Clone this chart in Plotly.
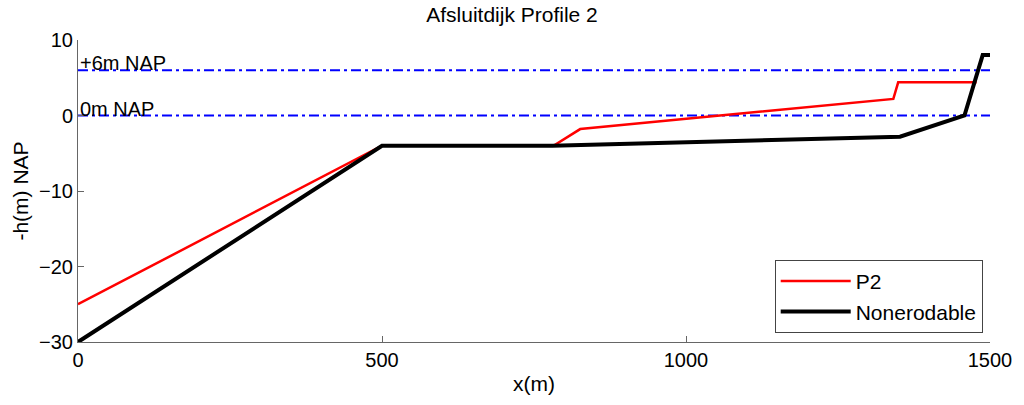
import plotly.graph_objects as go

# Data
p2_x = [0, 500, 782, 826, 1341, 1349, 1473, 1478]
p2_y = [-25, -4, -4, -1.8, 2.2, 4.4, 4.4, 4.4]
ne_x = [0, 500, 780, 1352, 1458, 1488, 1500]
ne_y = [-30, -4, -4, -2.8, 0, 8, 8]
ref_levels = [6, 0]
ref_labels = ["+6m NAP", "0m NAP"]
x_range = [0, 1500]
y_range = [-30, 10]
x_ticks = [0, 500, 1000, 1500]
y_ticks = [-30, -20, -10, 0, 10]

FONT = "Liberation Sans, Arial, sans-serif"

fig = go.Figure()
for lvl in ref_levels:
    fig.add_trace(go.Scatter(x=x_range, y=[lvl, lvl], mode="lines",
                             line=dict(color="#0000ff", width=2, dash="10px,4px,3px,4px"),
                             showlegend=False, hoverinfo="skip"))
fig.add_trace(go.Scatter(x=p2_x, y=p2_y, mode="lines", name="P2",
                         line=dict(color="#ff0000", width=2.5)))
fig.add_trace(go.Scatter(x=ne_x, y=ne_y, mode="lines", name="Nonerodable",
                         line=dict(color="#000000", width=4)))

for lvl, lab in zip(ref_levels, ref_labels):
    fig.add_annotation(x=0, y=lvl, text=lab, showarrow=False, xanchor="left",
                       yanchor="bottom", yshift=-6, xshift=0,
                       font=dict(family=FONT, size=20, color="#000"))

axis_common = dict(showgrid=False, zeroline=False, showline=True, linecolor="#666",
                   linewidth=1, ticks="inside", ticklen=6, tickcolor="#666",
                   tickfont=dict(family=FONT, size=20, color="#000"))

fig.update_layout(
    width=1024, height=405,
    margin=dict(l=78, r=31, t=40, b=63),
    paper_bgcolor="white", plot_bgcolor="white",
    title=dict(text="Afsluitdijk Profile 2", x=0.5, xanchor="center", y=0.965, yanchor="middle",
               font=dict(family=FONT, size=21, color="#000")),
    xaxis=dict(range=x_range, tickvals=x_ticks, title=dict(text="x(m)", standoff=6,
               font=dict(family=FONT, size=21, color="#000")), **axis_common),
    yaxis=dict(range=y_range, tickvals=y_ticks, title=dict(text="-h(m) NAP", standoff=4,
               font=dict(family=FONT, size=21, color="#000")), **axis_common),
    legend=dict(x=0.992, y=0.03, xanchor="right", yanchor="bottom",
                bordercolor="#444", borderwidth=1, bgcolor="white", itemwidth=70,
                font=dict(family=FONT, size=21, color="#000")),
    showlegend=True,
)

fig.write_html("out.html")
